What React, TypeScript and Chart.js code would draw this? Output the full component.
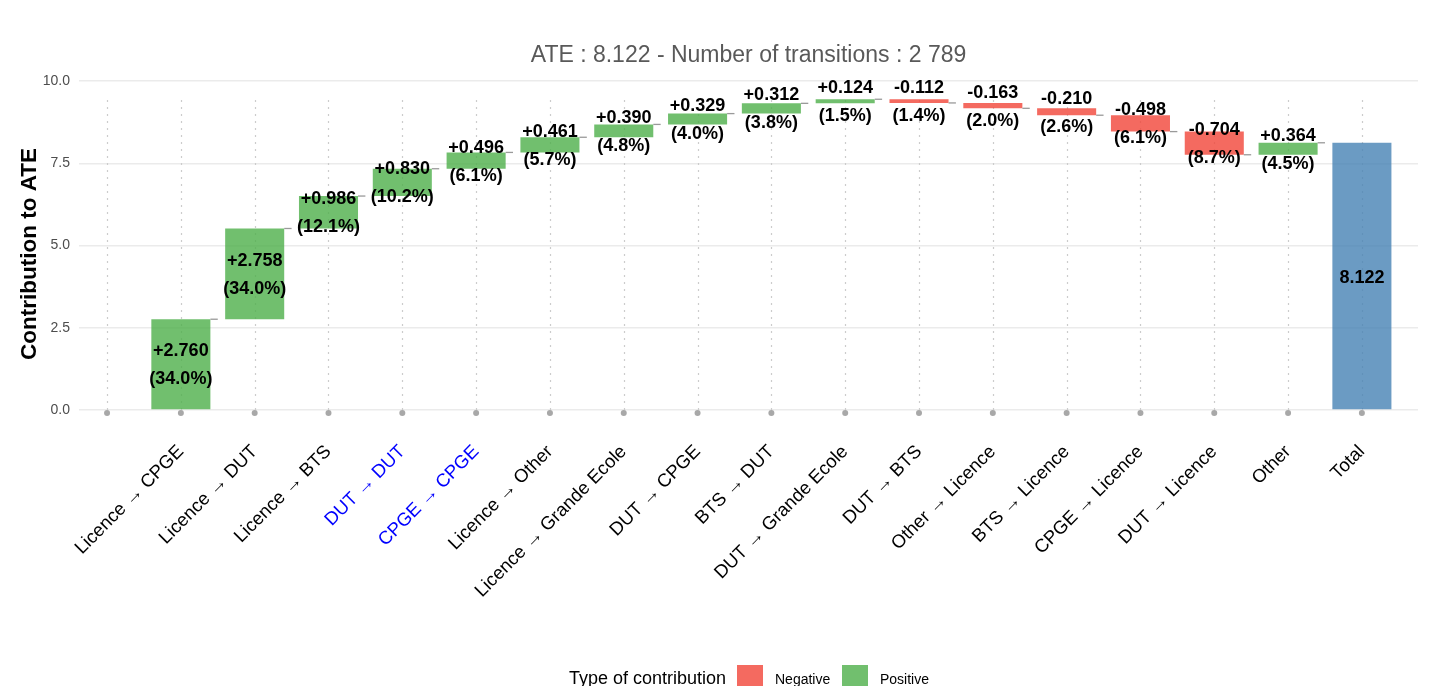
import React, { useEffect, useRef } from 'react';
import { Chart, registerables } from 'chart.js';

Chart.register(...registerables);

// ---- data ----
const categories = [
  '',
  'Licence → CPGE',
  'Licence → DUT',
  'Licence → BTS',
  'DUT → DUT',
  'CPGE → CPGE',
  'Licence → Other',
  'Licence → Grande Ecole',
  'DUT → CPGE',
  'BTS → DUT',
  'DUT → Grande Ecole',
  'DUT → BTS',
  'Other → Licence',
  'BTS → Licence',
  'CPGE → Licence',
  'DUT → Licence',
  'Other',
  'Total',
];
const contributions = [2.760, 2.758, 0.986, 0.830, 0.496, 0.461, 0.390, 0.329, 0.312, 0.124, -0.112, -0.163, -0.210, -0.498, -0.704, 0.364];
const shares = [34.0, 34.0, 12.1, 10.2, 6.1, 5.7, 4.8, 4.0, 3.8, 1.5, 1.4, 2.0, 2.6, 6.1, 8.7, 4.5];
const totalATE = 8.122;
const transitionsLabel = '2 789';
const highlighted = ['DUT → DUT', 'CPGE → CPGE'];
const yTicks = [0, 2.5, 5, 7.5, 10];
const legendItems = ['Negative', 'Positive'];

const FONT = "'Liberation Sans', Arial, Helvetica, sans-serif";
const GREEN = 'rgba(77,175,74,0.8)';
const RED = 'rgba(241,69,56,0.8)';
const BLUE = 'rgba(70,130,180,0.8)';

export default function App() {
  const canvasRef = useRef<HTMLCanvasElement | null>(null);

  useEffect(() => {
    if (!canvasRef.current) return;

    // build waterfall segments
    const cum: number[] = [];
    let run = 0;
    const barData: { x: number; y: [number, number] }[] = [];
    const colors: string[] = [];
    contributions.forEach((v, i) => {
      const start = run;
      run = run + v;
      cum.push(run);
      barData.push({ x: i + 1, y: [start, run] });
      colors.push(v >= 0 ? GREEN : RED);
    });
    barData.push({ x: categories.length - 1, y: [0, totalATE] });
    colors.push(BLUE);

    const overlay = {
      id: 'overlay',
      beforeDatasetsDraw(chart: any) {
        const { ctx } = chart;
        const xs = chart.scales.x;
        const ys = chart.scales.y;
        ctx.save();
        ctx.strokeStyle = '#cccccc';
        ctx.lineWidth = 1.2;
        ctx.setLineDash([2, 5]);
        const yTop = ys.getPixelForValue(9.57);
        const yBot = ys.getPixelForValue(0);
        categories.forEach((_, i) => {
          const px = Math.round(xs.getPixelForValue(i)) + 0.5;
          ctx.beginPath();
          ctx.moveTo(px, yBot);
          ctx.lineTo(px, yTop);
          ctx.stroke();
        });
        ctx.restore();
      },
      afterDatasetsDraw(chart: any) {
        const { ctx } = chart;
        const xs = chart.scales.x;
        const ys = chart.scales.y;
        const meta = chart.getDatasetMeta(0);
        ctx.save();
        // connectors
        ctx.strokeStyle = '#9a9a9a';
        ctx.lineWidth = 1.3;
        contributions.forEach((_, i) => {
          const pos = i + 1;
          const py = ys.getPixelForValue(cum[i]);
          ctx.beginPath();
          ctx.moveTo(xs.getPixelForValue(pos + 0.4), py);
          ctx.lineTo(xs.getPixelForValue(pos + 0.5), py);
          ctx.stroke();
        });
        // axis dots
        ctx.fillStyle = '#a8a8a8';
        const y0 = ys.getPixelForValue(0) + 3;
        categories.forEach((_, i) => {
          ctx.beginPath();
          ctx.arc(xs.getPixelForValue(i), y0, 3, 0, Math.PI * 2);
          ctx.fill();
        });
        // value labels
        ctx.fillStyle = '#000';
        ctx.textAlign = 'center';
        ctx.textBaseline = 'middle';
        ctx.font = `bold 18px ${FONT}`;
        meta.data.forEach((el: any, i: number) => {
          const mid = (el.y + el.base) / 2;
          if (i < contributions.length) {
            const v = contributions[i];
            const t1 = (v >= 0 ? '+' : '') + v.toFixed(3);
            const t2 = '(' + shares[i].toFixed(1) + '%)';
            ctx.fillText(t1, el.x, mid - 13);
            ctx.fillText(t2, el.x, mid + 15);
          } else {
            ctx.fillText(totalATE.toFixed(3), el.x, mid + 1.5);
          }
        });
        ctx.restore();
      },
      afterDraw(chart: any) {
        const { ctx, chartArea } = chart;
        ctx.save();
        // title
        ctx.fillStyle = '#595959';
        ctx.font = `23px ${FONT}`;
        ctx.textAlign = 'center';
        ctx.textBaseline = 'middle';
        ctx.fillText(
          `ATE : ${totalATE.toFixed(3)} - Number of transitions : ${transitionsLabel}`,
          (chartArea.left + chartArea.right) / 2,
          56
        );
        // y title
        ctx.save();
        ctx.translate(30, 254);
        ctx.rotate(-Math.PI / 2);
        ctx.fillStyle = '#000';
        ctx.font = `bold 22.5px ${FONT}`;
        ctx.fillText('Contribution to ATE', 0, 0);
        ctx.restore();
        // legend
        ctx.textAlign = 'left';
        ctx.textBaseline = 'alphabetic';
        ctx.fillStyle = '#000';
        ctx.font = `18px ${FONT}`;
        ctx.fillText('Type of contribution', 569, 684);
        const sw = [RED, GREEN];
        const sx = [737, 842];
        legendItems.forEach((lab, i) => {
          ctx.fillStyle = sw[i];
          ctx.fillRect(sx[i], 665, 26, 26);
          ctx.fillStyle = '#000';
          ctx.font = `14px ${FONT}`;
          ctx.fillText(lab, sx[i] + 38, 684);
        });
        ctx.restore();
      },
    };

    const chart = new Chart(canvasRef.current, {
      type: 'bar',
      data: {
        datasets: [
          {
            data: barData as any,
            backgroundColor: colors,
            borderWidth: 0,
            barPercentage: 0.8,
            categoryPercentage: 1.0,
          },
        ],
      },
      options: {
        responsive: false,
        animation: false,
        layout: { padding: { top: 74.45, right: 17, bottom: 0, left: 0 } },
        plugins: {
          legend: { display: false },
          title: { display: false },
          tooltip: { enabled: false },
        },
        scales: {
          x: {
            type: 'linear',
            offset: false,
            min: -0.38,
            max: 17.76,
            grid: { display: false },
            border: { display: false },
            afterBuildTicks: (scale: any) => {
              scale.ticks = categories.map((_, i) => ({ value: i }));
            },
            afterFit: (scale: any) => {
              scale.height = 686 - 419.9;
            },
            ticks: {
              autoSkip: false,
              maxRotation: 45,
              minRotation: 45,
              padding: 13,
              font: { family: FONT, size: 18.5 },
              color: (c: any) => (highlighted.includes(categories[c.index]) ? '#0000ff' : '#000000'),
              callback: (_v: any, idx: number) => categories[idx],
            },
          },
          y: {
            type: 'linear',
            min: -0.3,
            max: 10.2,
            border: { display: false },
            grid: { color: '#ebebeb', lineWidth: 1.4, drawTicks: false },
            afterBuildTicks: (scale: any) => {
              scale.ticks = yTicks.map((v) => ({ value: v }));
            },
            afterFit: (scale: any) => {
              scale.width = 79;
            },
            ticks: {
              padding: 9,
              color: '#4d4d4d',
              font: { family: FONT, size: 14 },
              callback: (v: any) => Number(v).toFixed(1),
            },
          },
        },
      },
      plugins: [overlay],
    });

    return () => chart.destroy();
  }, []);

  return (
    <div style={{ position: 'fixed', left: 0, top: 0, width: 1435, height: 686, background: '#fff' }}>
      <canvas ref={canvasRef} width={1435} height={686} style={{ width: 1435, height: 686, display: 'block' }} />
    </div>
  );
}
